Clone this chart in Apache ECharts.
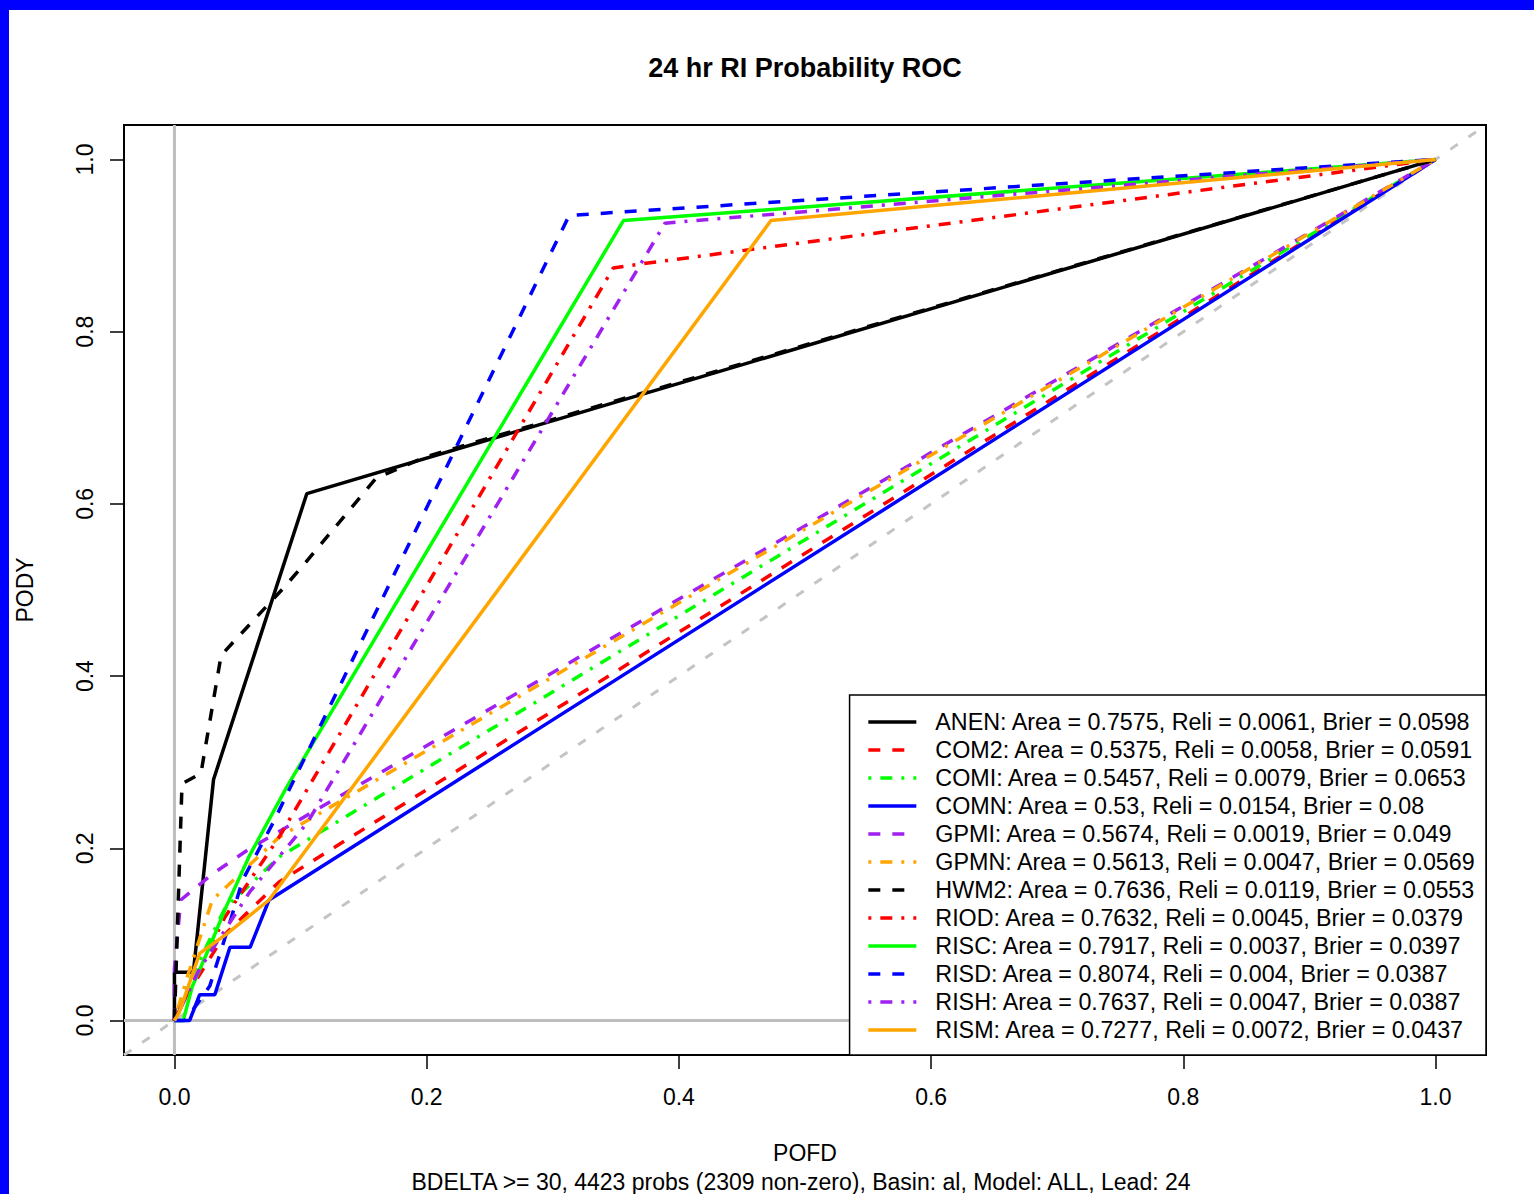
<!DOCTYPE html>
<html>
<head>
<meta charset="utf-8">
<title>24 hr RI Probability ROC</title>
<script src="https://cdn.jsdelivr.net/npm/echarts@6/dist/echarts.min.js"></script>
<style>
  html, body { margin: 0; padding: 0; background: #0000FF; }
  #paper { position: absolute; left: 9px; top: 10px; width: 1525px; height: 1184px; background: #FFFFFF; }
  #chart { position: absolute; left: 0; top: 0; width: 1534px; height: 1194px; }
</style>
</head>
<body>
<div id="paper"></div>
<div id="chart"></div>
<script>
// ROC curves: [POFD, PODY] vertices for each forecast model
const ANEN = [[0,0],[0,0.056],[0.015,0.056],[0.031,0.28],[0.105,0.612],[1,1]];
const COM2 = [[0,0],[0.01,0.03],[0.04,0.1],[0.083,0.161],[1,1]];
const COMI = [[0,0],[0.01,0.04],[0.04,0.13],[0.083,0.19],[1,1]];
const COMN = [[0,0],[0.012,0],[0.02,0.03],[0.032,0.03],[0.044,0.085],[0.06,0.085],[0.075,0.14],[1,1]];
const GPMI = [[0,0],[0,0.06],[0.005,0.14],[0.03,0.17],[0.06,0.2],[1,1]];
const GPMN = [[0,0],[0.01,0.05],[0.03,0.14],[0.083,0.213],[1,1]];
const HWM2 = [[0,0],[0.006,0.275],[0.021,0.287],[0.037,0.424],[0.047,0.44],[0.085,0.5],[0.1,0.525],[0.16,0.63],[0.2,0.655],[1,1]];
const RIOD = [[0,0],[0.01,0.03],[0.04,0.12],[0.083,0.213],[0.348,0.874],[0.377,0.88],[1,1]];
const RISC = [[0,0],[0.007,0],[0.014,0.039],[0.028,0.086],[0.041,0.132],[0.059,0.19],[0.089,0.271],[0.356,0.929],[1,1]];
const RISD = [[0,0],[0.008,0],[0.013,0.009],[0.028,0.04],[0.045,0.119],[0.054,0.163],[0.078,0.229],[0.313,0.935],[1,1]];
const RISH = [[0,0],[0.02,0.06],[0.06,0.15],[0.105,0.229],[0.389,0.926],[1,1]];
const RISM = [[0,0],[0.004,0.01],[0.02,0.078],[0.041,0.1],[0.075,0.14],[0.473,0.929],[1,1]];

// Legend statistics
const models = ['ANEN','COM2','COMI','COMN','GPMI','GPMN','HWM2','RIOD','RISC','RISD','RISH','RISM'];
const areas  = ['0.7575','0.5375','0.5457','0.53','0.5674','0.5613','0.7636','0.7632','0.7917','0.8074','0.7637','0.7277'];
const relis  = ['0.0061','0.0058','0.0079','0.0154','0.0019','0.0047','0.0119','0.0045','0.0037','0.004','0.0047','0.0072'];
const briers = ['0.0598','0.0591','0.0653','0.08','0.049','0.0569','0.0553','0.0379','0.0397','0.0387','0.0387','0.0437'];

// Reference lines (no-skill diagonal and zero lines)
const diagLine  = [[-0.04,-0.04],[1.04,1.04]];
const zeroXLine = [[0,-0.04],[0,1.04]];
const zeroYLine = [[-0.04,0],[1.04,0]];

const xTicks = [0,0.2,0.4,0.6,0.8,1.0];
const yTicks = [0,0.2,0.4,0.6,0.8,1.0];

const curves = [ANEN, COM2, COMI, COMN, GPMI, GPMN, HWM2, RIOD, RISC, RISD, RISH, RISM];
const colors = ['#000000','#FF0000','#00FF00','#0000FF','#A020F0','#FFA500','#000000','#FF0000','#00FF00','#0000FF','#A020F0','#FFA500'];
const DASHED = [12, 12];
const DOTDASH = [3, 9, 12, 9];
const dashes = ['solid', DASHED, DOTDASH, 'solid', DASHED, DOTDASH, DASHED, DOTDASH, 'solid', DASHED, DOTDASH, 'solid'];

const FONT = '"Liberation Sans", Arial, Helvetica, sans-serif';

const series = [
  { type: 'line', data: zeroXLine, symbol: 'none', silent: true, lineStyle: { color: '#BEBEBE', width: 3 }, z: 1 },
  { type: 'line', data: zeroYLine, symbol: 'none', silent: true, lineStyle: { color: '#BEBEBE', width: 3 }, z: 1 },
  { type: 'line', data: diagLine, symbol: 'none', silent: true, lineStyle: { color: '#C4C4C4', width: 3, type: [9, 13] }, z: 1 }
];
models.forEach(function (m, i) {
  series.push({
    name: m,
    type: 'line',
    data: curves[i],
    symbol: 'none',
    lineStyle: { color: colors[i], width: 3.5, type: dashes[i], cap: 'butt' },
    itemStyle: { color: colors[i] },
    z: 2
  });
});

const chart = echarts.init(document.getElementById('chart'), null, { renderer: 'svg' });
chart.setOption({
  animation: false,
  backgroundColor: 'transparent',
  textStyle: { fontFamily: FONT, color: '#000' },
  grid: { left: 124, top: 125, width: 1362, height: 930, show: true, borderColor: '#000', borderWidth: 2, backgroundColor: 'transparent' },
  xAxis: {
    type: 'value', min: -0.04, max: 1.04,
    axisLine: { show: false, onZero: false },
    splitLine: { show: false },
    axisTick: { show: true, inside: false, customValues: xTicks, length: 14, lineStyle: { color: '#000', width: 1.5 } },
    axisLabel: { customValues: xTicks, formatter: function (v) { return v.toFixed(1); }, fontSize: 23, margin: 30, color: '#000', fontFamily: FONT }
  },
  yAxis: {
    type: 'value', min: -0.04, max: 1.04,
    axisLine: { show: false, onZero: false },
    splitLine: { show: false },
    axisTick: { show: true, inside: false, customValues: yTicks, length: 14, lineStyle: { color: '#000', width: 1.5 } },
    axisLabel: { customValues: yTicks, formatter: function (v) { return v.toFixed(1); }, rotate: 90, fontSize: 23, margin: 28, color: '#000', fontFamily: FONT }
  },
  legend: {
    data: models,
    orient: 'vertical',
    right: 48, bottom: 139,
    backgroundColor: '#FFFFFF',
    borderColor: '#000', borderWidth: 1.5, borderRadius: 0,
    padding: [15, 10, 13, 17],
    itemWidth: 48, itemHeight: 14, itemGap: 4,
    itemStyle: { opacity: 0 },
    lineStyle: { width: 3.5 },
    textStyle: { fontSize: 23.3, lineHeight: 24, color: '#000', fontFamily: FONT, padding: [0, 0, 0, 14] },
    formatter: function (name) {
      const i = models.indexOf(name);
      return name + ': Area = ' + areas[i] + ', Reli = ' + relis[i] + ', Brier = ' + briers[i];
    },
    selectedMode: false,
    z: 10
  },
  graphic: [
    { type: 'text', z: 20, style: { x: 805, y: 68, text: '24 hr RI Probability ROC', textAlign: 'center', textVerticalAlign: 'middle', font: 'bold 27px ' + FONT, fill: '#000' } },
    { type: 'text', z: 20, style: { x: 805, y: 1153, text: 'POFD', textAlign: 'center', textVerticalAlign: 'middle', font: '23px ' + FONT, fill: '#000' } },
    { type: 'text', z: 20, style: { x: 801, y: 1182, text: 'BDELTA >= 30, 4423 probs (2309 non-zero), Basin: al, Model: ALL, Lead: 24', textAlign: 'center', textVerticalAlign: 'middle', font: '23px ' + FONT, fill: '#000' } },
    { type: 'text', z: 20, x: 25, y: 590, rotation: Math.PI / 2, style: { x: 0, y: 0, text: 'PODY', textAlign: 'center', textVerticalAlign: 'middle', font: '23px ' + FONT, fill: '#000' } }
  ],
  series: series
});
</script>
</body>
</html>
